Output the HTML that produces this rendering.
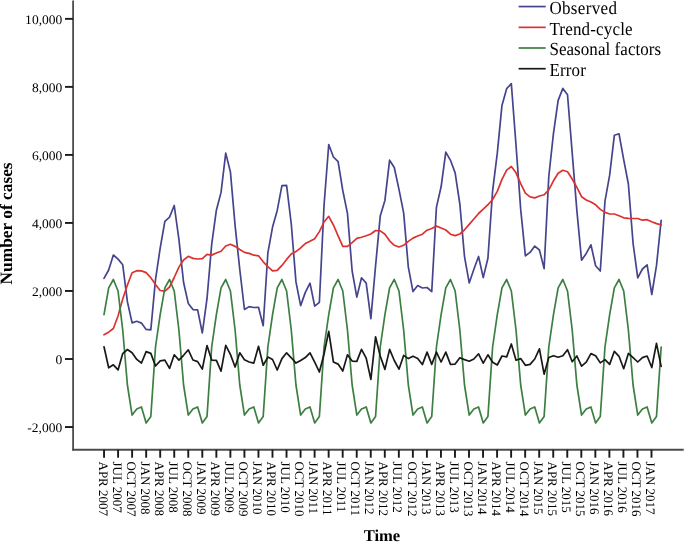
<!DOCTYPE html><html><head><meta charset="utf-8"><style>html,body{margin:0;padding:0;background:#fff;}svg{display:block;}text{font-family:"Liberation Serif",serif;text-rendering:geometricPrecision;}svg{will-change:transform;}</style></head><body>
<svg width="685" height="542" viewBox="0 0 685 542">
<rect width="685" height="542" fill="#fff"/>
<g stroke="#4c4c4a" stroke-width="1.8" fill="none">
<line x1="73.1" y1="0.6" x2="73.1" y2="450.6"/>
<line x1="72.2" y1="449.75" x2="683.7" y2="449.75"/>
</g>
<g stroke="#1c1a18" stroke-width="1.9">
<line x1="65" y1="427.03" x2="73" y2="427.03"/>
<line x1="65" y1="359.00" x2="73" y2="359.00"/>
<line x1="65" y1="290.97" x2="73" y2="290.97"/>
<line x1="65" y1="222.94" x2="73" y2="222.94"/>
<line x1="65" y1="154.91" x2="73" y2="154.91"/>
<line x1="65" y1="86.88" x2="73" y2="86.88"/>
<line x1="65" y1="18.85" x2="73" y2="18.85"/>
</g>
<g font-size="13" fill="#000" text-anchor="end">
<text transform="translate(62.3,432.16) scale(1.04,1)">-2,000</text>
<text transform="translate(62.3,364.10) scale(1.04,1)">0</text>
<text transform="translate(62.3,296.04) scale(1.04,1)">2,000</text>
<text transform="translate(62.3,227.98) scale(1.04,1)">4,000</text>
<text transform="translate(62.3,159.92) scale(1.04,1)">6,000</text>
<text transform="translate(62.3,91.86) scale(1.04,1)">8,000</text>
<text transform="translate(62.3,23.80) scale(1.04,1)">10,000</text>
</g>
<g stroke="#1c1a18" stroke-width="1.9">
<line x1="104.05" y1="449.7" x2="104.05" y2="457.7"/>
<line x1="118.09" y1="449.7" x2="118.09" y2="457.7"/>
<line x1="132.12" y1="449.7" x2="132.12" y2="457.7"/>
<line x1="146.16" y1="449.7" x2="146.16" y2="457.7"/>
<line x1="160.20" y1="449.7" x2="160.20" y2="457.7"/>
<line x1="174.24" y1="449.7" x2="174.24" y2="457.7"/>
<line x1="188.27" y1="449.7" x2="188.27" y2="457.7"/>
<line x1="202.31" y1="449.7" x2="202.31" y2="457.7"/>
<line x1="216.35" y1="449.7" x2="216.35" y2="457.7"/>
<line x1="230.38" y1="449.7" x2="230.38" y2="457.7"/>
<line x1="244.42" y1="449.7" x2="244.42" y2="457.7"/>
<line x1="258.46" y1="449.7" x2="258.46" y2="457.7"/>
<line x1="272.49" y1="449.7" x2="272.49" y2="457.7"/>
<line x1="286.53" y1="449.7" x2="286.53" y2="457.7"/>
<line x1="300.57" y1="449.7" x2="300.57" y2="457.7"/>
<line x1="314.61" y1="449.7" x2="314.61" y2="457.7"/>
<line x1="328.64" y1="449.7" x2="328.64" y2="457.7"/>
<line x1="342.68" y1="449.7" x2="342.68" y2="457.7"/>
<line x1="356.72" y1="449.7" x2="356.72" y2="457.7"/>
<line x1="370.75" y1="449.7" x2="370.75" y2="457.7"/>
<line x1="384.79" y1="449.7" x2="384.79" y2="457.7"/>
<line x1="398.83" y1="449.7" x2="398.83" y2="457.7"/>
<line x1="412.86" y1="449.7" x2="412.86" y2="457.7"/>
<line x1="426.90" y1="449.7" x2="426.90" y2="457.7"/>
<line x1="440.94" y1="449.7" x2="440.94" y2="457.7"/>
<line x1="454.98" y1="449.7" x2="454.98" y2="457.7"/>
<line x1="469.01" y1="449.7" x2="469.01" y2="457.7"/>
<line x1="483.05" y1="449.7" x2="483.05" y2="457.7"/>
<line x1="497.09" y1="449.7" x2="497.09" y2="457.7"/>
<line x1="511.12" y1="449.7" x2="511.12" y2="457.7"/>
<line x1="525.16" y1="449.7" x2="525.16" y2="457.7"/>
<line x1="539.20" y1="449.7" x2="539.20" y2="457.7"/>
<line x1="553.23" y1="449.7" x2="553.23" y2="457.7"/>
<line x1="567.27" y1="449.7" x2="567.27" y2="457.7"/>
<line x1="581.31" y1="449.7" x2="581.31" y2="457.7"/>
<line x1="595.35" y1="449.7" x2="595.35" y2="457.7"/>
<line x1="609.38" y1="449.7" x2="609.38" y2="457.7"/>
<line x1="623.42" y1="449.7" x2="623.42" y2="457.7"/>
<line x1="637.46" y1="449.7" x2="637.46" y2="457.7"/>
<line x1="651.49" y1="449.7" x2="651.49" y2="457.7"/>
</g>
<g font-size="13" fill="#000">
<text transform="translate(98.70,461.5) rotate(90)">APR 2007</text>
<text transform="translate(112.74,461.5) rotate(90)">JUL 2007</text>
<text transform="translate(126.77,461.5) rotate(90)">OCT 2007</text>
<text transform="translate(140.81,461.5) rotate(90)">JAN 2008</text>
<text transform="translate(154.85,461.5) rotate(90)">APR 2008</text>
<text transform="translate(168.89,461.5) rotate(90)">JUL 2008</text>
<text transform="translate(182.92,461.5) rotate(90)">OCT 2008</text>
<text transform="translate(196.96,461.5) rotate(90)">JAN 2009</text>
<text transform="translate(211.00,461.5) rotate(90)">APR 2009</text>
<text transform="translate(225.03,461.5) rotate(90)">JUL 2009</text>
<text transform="translate(239.07,461.5) rotate(90)">OCT 2009</text>
<text transform="translate(253.11,461.5) rotate(90)">JAN 2010</text>
<text transform="translate(267.14,461.5) rotate(90)">APR 2010</text>
<text transform="translate(281.18,461.5) rotate(90)">JUL 2010</text>
<text transform="translate(295.22,461.5) rotate(90)">OCT 2010</text>
<text transform="translate(309.25,461.5) rotate(90)">JAN 2011</text>
<text transform="translate(323.29,461.5) rotate(90)">APR 2011</text>
<text transform="translate(337.33,461.5) rotate(90)">JUL 2011</text>
<text transform="translate(351.37,461.5) rotate(90)">OCT 2011</text>
<text transform="translate(365.40,461.5) rotate(90)">JAN 2012</text>
<text transform="translate(379.44,461.5) rotate(90)">APR 2012</text>
<text transform="translate(393.48,461.5) rotate(90)">JUL 2012</text>
<text transform="translate(407.51,461.5) rotate(90)">OCT 2012</text>
<text transform="translate(421.55,461.5) rotate(90)">JAN 2013</text>
<text transform="translate(435.59,461.5) rotate(90)">APR 2013</text>
<text transform="translate(449.62,461.5) rotate(90)">JUL 2013</text>
<text transform="translate(463.66,461.5) rotate(90)">OCT 2013</text>
<text transform="translate(477.70,461.5) rotate(90)">JAN 2014</text>
<text transform="translate(491.74,461.5) rotate(90)">APR 2014</text>
<text transform="translate(505.77,461.5) rotate(90)">JUL 2014</text>
<text transform="translate(519.81,461.5) rotate(90)">OCT 2014</text>
<text transform="translate(533.85,461.5) rotate(90)">JAN 2015</text>
<text transform="translate(547.88,461.5) rotate(90)">APR 2015</text>
<text transform="translate(561.92,461.5) rotate(90)">JUL 2015</text>
<text transform="translate(575.96,461.5) rotate(90)">OCT 2015</text>
<text transform="translate(590.00,461.5) rotate(90)">JAN 2016</text>
<text transform="translate(604.03,461.5) rotate(90)">APR 2016</text>
<text transform="translate(618.07,461.5) rotate(90)">JUL 2016</text>
<text transform="translate(632.11,461.5) rotate(90)">OCT 2016</text>
<text transform="translate(646.14,461.5) rotate(90)">JAN 2017</text>
</g>
<text x="381.95" y="540.8" font-size="16.6" font-weight="bold" text-anchor="middle" fill="#000">Time</text>
<text transform="translate(12.3,223.4) rotate(-90)" font-size="17.35" font-weight="bold" text-anchor="middle" fill="#000">Number of cases</text>
<g fill="none" stroke-width="1.7" stroke-linejoin="round" stroke-linecap="round">
<polyline stroke="#45448c" points="104.00,278.40 108.68,270.00 113.36,255.00 118.05,259.10 122.73,264.80 127.41,301.70 132.09,322.90 136.77,321.30 141.46,323.10 146.14,329.40 150.82,329.90 155.50,279.60 160.18,248.20 164.87,221.30 169.55,217.10 174.23,205.50 178.91,239.40 183.59,282.50 188.28,303.40 192.96,309.60 197.64,309.80 202.32,333.00 207.00,298.70 211.69,244.40 216.37,210.20 221.05,192.40 225.73,153.10 230.41,171.90 235.10,225.60 239.78,269.50 244.46,309.50 249.14,306.60 253.82,307.50 258.51,307.30 263.19,325.70 267.87,252.90 272.55,227.10 277.23,210.40 281.92,185.70 286.60,185.40 291.28,224.00 295.96,281.90 300.64,305.60 305.33,292.40 310.01,283.20 314.69,306.20 319.37,302.30 324.05,205.20 328.74,144.50 333.42,157.00 338.10,161.60 342.78,190.50 347.46,213.30 352.15,271.00 356.83,297.10 361.51,277.80 366.19,283.10 370.87,318.60 375.56,266.00 380.24,216.10 384.92,200.40 389.60,160.20 394.28,167.50 398.97,189.40 403.65,212.90 408.33,267.20 413.01,291.60 417.69,285.60 422.38,288.00 427.06,287.50 431.74,291.60 436.42,207.40 441.10,186.80 445.79,152.10 450.47,160.30 455.15,172.90 459.83,204.00 464.51,256.60 469.20,282.90 473.88,269.20 478.56,256.50 483.24,277.60 487.92,258.20 492.61,190.90 497.29,153.20 501.97,105.40 506.65,88.70 511.33,83.70 516.02,145.20 520.70,209.40 525.38,255.80 530.06,252.40 534.74,246.10 539.43,250.00 544.11,268.60 548.79,176.50 553.47,133.30 558.15,100.40 562.84,88.40 567.52,94.70 572.20,152.90 576.88,210.60 581.56,260.20 586.25,253.40 590.93,244.80 595.61,265.70 600.29,271.00 604.97,201.20 609.66,175.20 614.34,135.30 619.02,133.80 623.70,159.70 628.38,184.00 633.07,243.30 637.75,277.80 642.43,269.00 647.11,264.90 651.79,294.50 656.48,265.70 661.16,220.30"/>
<polyline stroke="#dc322f" points="104.00,334.80 108.68,332.20 113.36,328.50 118.05,316.00 122.73,299.00 127.41,285.00 132.09,272.80 136.77,270.70 141.46,270.90 146.14,272.60 150.82,277.80 155.50,284.40 160.18,290.50 164.87,291.10 169.55,287.00 174.23,277.50 178.91,267.10 183.59,260.00 188.28,256.30 192.96,258.40 197.64,259.00 202.32,258.70 207.00,254.40 211.69,255.10 216.37,253.00 221.05,251.20 225.73,246.00 230.41,244.30 235.10,246.40 239.78,249.50 244.46,252.40 249.14,253.40 253.82,255.20 258.51,255.80 263.19,261.80 267.87,266.60 272.55,270.80 277.23,270.40 281.92,265.40 286.60,259.40 291.28,254.00 295.96,251.60 300.64,247.90 305.33,243.60 310.01,241.20 314.69,238.80 319.37,231.60 324.05,222.00 328.74,216.30 333.42,225.00 338.10,235.80 342.78,246.30 347.46,246.30 352.15,242.70 356.83,238.40 361.51,237.20 366.19,235.80 370.87,234.00 375.56,230.50 380.24,230.90 384.92,234.20 389.60,240.80 394.28,245.30 398.97,247.00 403.65,245.30 408.33,241.40 413.01,238.10 417.69,236.00 422.38,234.20 427.06,230.20 431.74,228.50 436.42,226.10 441.10,228.00 445.79,230.00 450.47,234.20 455.15,235.60 459.83,234.00 464.51,229.80 469.20,224.40 473.88,219.00 478.56,213.50 483.24,209.20 487.92,204.70 492.61,199.50 497.29,191.40 501.97,179.40 506.65,170.10 511.33,166.50 516.02,172.80 520.70,183.60 525.38,193.20 530.06,196.80 534.74,197.90 539.43,196.00 544.11,194.80 548.79,189.80 553.47,180.80 558.15,173.20 562.84,170.30 567.52,171.80 572.20,179.00 576.88,187.40 581.56,196.70 586.25,200.00 590.93,202.00 595.61,204.80 600.29,209.40 604.97,212.40 609.66,214.00 614.34,214.00 619.02,215.80 623.70,217.80 628.38,218.40 633.07,218.50 637.75,218.50 642.43,220.20 647.11,219.70 651.79,221.80 656.48,223.60 661.16,224.80"/>
<polyline stroke="#3c7f41" points="104.00,314.60 108.68,287.80 113.36,279.50 118.05,291.00 122.73,330.00 127.41,385.00 132.09,415.10 136.77,409.00 141.46,407.00 146.14,423.00 150.82,416.50 155.50,347.00 160.18,314.60 164.87,287.80 169.55,279.50 174.23,291.00 178.91,330.00 183.59,385.00 188.28,415.10 192.96,409.00 197.64,407.00 202.32,423.00 207.00,416.50 211.69,347.00 216.37,314.60 221.05,287.80 225.73,279.50 230.41,291.00 235.10,330.00 239.78,385.00 244.46,415.10 249.14,409.00 253.82,407.00 258.51,423.00 263.19,416.50 267.87,347.00 272.55,314.60 277.23,287.80 281.92,279.50 286.60,291.00 291.28,330.00 295.96,385.00 300.64,415.10 305.33,409.00 310.01,407.00 314.69,423.00 319.37,416.50 324.05,347.00 328.74,314.60 333.42,287.80 338.10,279.50 342.78,291.00 347.46,330.00 352.15,385.00 356.83,415.10 361.51,409.00 366.19,407.00 370.87,423.00 375.56,416.50 380.24,347.00 384.92,314.60 389.60,287.80 394.28,279.50 398.97,291.00 403.65,330.00 408.33,385.00 413.01,415.10 417.69,409.00 422.38,407.00 427.06,423.00 431.74,416.50 436.42,347.00 441.10,314.60 445.79,287.80 450.47,279.50 455.15,291.00 459.83,330.00 464.51,385.00 469.20,415.10 473.88,409.00 478.56,407.00 483.24,423.00 487.92,416.50 492.61,347.00 497.29,314.60 501.97,287.80 506.65,279.50 511.33,291.00 516.02,330.00 520.70,385.00 525.38,415.10 530.06,409.00 534.74,407.00 539.43,423.00 544.11,416.50 548.79,347.00 553.47,314.60 558.15,287.80 562.84,279.50 567.52,291.00 572.20,330.00 576.88,385.00 581.56,415.10 586.25,409.00 590.93,407.00 595.61,423.00 600.29,416.50 604.97,347.00 609.66,314.60 614.34,287.80 619.02,279.50 623.70,291.00 628.38,330.00 633.07,385.00 637.75,415.10 642.43,409.00 647.11,407.00 651.79,423.00 656.48,416.50 661.16,347.00"/>
<polyline stroke="#181816" points="104.00,346.80 108.68,367.80 113.36,364.80 118.05,369.90 122.73,353.60 127.41,349.50 132.09,352.80 136.77,359.40 141.46,363.00 146.14,351.60 150.82,353.40 155.50,366.00 160.18,360.90 164.87,360.20 169.55,368.40 174.23,354.80 178.91,360.10 183.59,355.30 188.28,349.80 192.96,360.00 197.64,361.60 202.32,369.10 207.00,345.60 211.69,360.10 216.37,360.40 221.05,371.20 225.73,345.40 230.41,354.40 235.10,367.00 239.78,352.80 244.46,359.80 249.14,362.00 253.82,363.10 258.51,346.30 263.19,365.20 267.87,357.10 272.55,359.50 277.23,370.00 281.92,358.60 286.60,352.80 291.28,357.80 295.96,363.10 300.64,360.40 305.33,357.60 310.01,352.80 314.69,362.20 319.37,372.00 324.05,354.00 328.74,331.40 333.42,362.00 338.10,364.10 342.78,371.00 347.46,354.80 352.15,361.10 356.83,361.40 361.51,349.40 366.19,358.10 370.87,379.40 375.56,336.80 380.24,356.00 384.92,369.40 389.60,349.40 394.28,360.50 398.97,369.20 403.65,355.40 408.33,358.60 413.01,356.20 417.69,358.40 422.38,364.60 427.06,352.10 431.74,364.40 436.42,352.10 441.10,362.00 445.79,352.10 450.47,364.40 455.15,364.10 459.83,357.80 464.51,359.60 469.20,361.20 473.88,359.00 478.56,353.80 483.24,363.20 487.92,354.80 492.61,362.20 497.29,365.00 501.97,356.00 506.65,356.90 511.33,344.00 516.02,360.20 520.70,358.60 525.38,365.30 530.06,364.40 534.74,359.00 539.43,348.80 544.11,374.20 548.79,357.50 553.47,355.70 558.15,357.20 562.84,355.70 567.52,349.70 572.20,361.70 576.88,356.00 581.56,366.20 586.25,362.20 590.93,353.60 595.61,355.70 600.29,362.90 604.97,359.60 609.66,364.40 614.34,351.30 619.02,356.30 623.70,368.70 628.38,353.40 633.07,357.60 637.75,362.00 642.43,357.60 647.11,356.00 651.79,367.50 656.48,343.40 661.16,366.30"/>
</g>
<line x1="518.6" y1="6.55" x2="545.7" y2="6.55" stroke="#45448c" stroke-width="1.7"/>
<text transform="translate(549.4,13.90) scale(1,1.08)" font-size="17" fill="#000" textLength="67.6" lengthAdjust="spacing">Observed</text>
<line x1="518.6" y1="27.35" x2="545.7" y2="27.35" stroke="#dc322f" stroke-width="1.7"/>
<text transform="translate(549.4,34.70) scale(1,1.08)" font-size="17" fill="#000" textLength="83.2" lengthAdjust="spacing">Trend-cycle</text>
<line x1="518.6" y1="48.0" x2="545.7" y2="48.0" stroke="#3c7f41" stroke-width="1.7"/>
<text transform="translate(549.4,55.35) scale(1,1.08)" font-size="17" fill="#000" textLength="111.8" lengthAdjust="spacing">Seasonal factors</text>
<line x1="518.6" y1="68.7" x2="545.7" y2="68.7" stroke="#181816" stroke-width="1.7"/>
<text transform="translate(549.4,76.05) scale(1,1.08)" font-size="17" fill="#000" textLength="36.5" lengthAdjust="spacing">Error</text>
</svg></body></html>
